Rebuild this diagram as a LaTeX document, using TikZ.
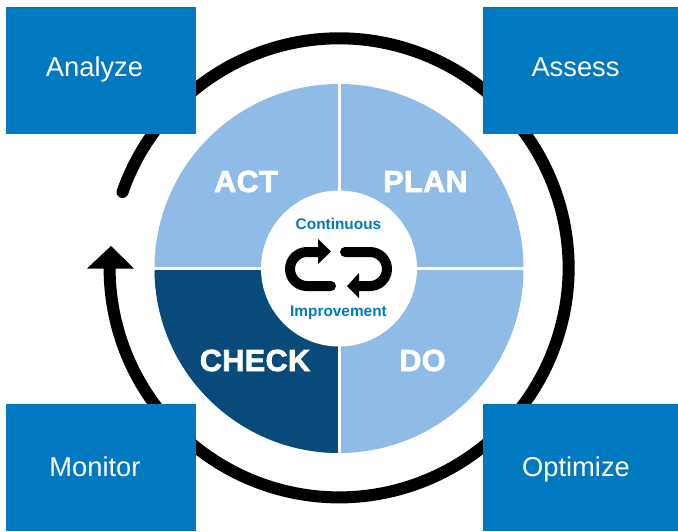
\documentclass[tikz,border=0pt]{standalone}
\usepackage{fontspec}
\setmainfont{Liberation Sans}
\newfontfamily\heavyfont[UprightFont={* Bold},FakeBold=2.5,LetterSpace=1.5]{Liberation Sans}
\definecolor{boxblue}{HTML}{0079C1}
\definecolor{lightseg}{HTML}{8FBBE6}
\definecolor{darkseg}{HTML}{084A7A}
\newcommand{\fsz}[1]{\fontsize{#1}{#1}\selectfont}
\tikzset{
  x=1pt,y=-1pt,
  cornerbox/.style={fill=boxblue,inner sep=0pt,anchor=north west,minimum height=127pt},
  boxtext/.style={text=white,inner sep=0pt,anchor=base,font=\fsz{27.3}},
  seglabel/.style={text=white,inner sep=0pt,anchor=base,font=\fsz{30.5}\heavyfont},
  midlabel/.style={text=boxblue,inner sep=0pt,anchor=base,font=\fsz{15.4}\bfseries},
  loopline/.style={draw=black,line width=10pt,line cap=round},
}
\begin{document}
\begin{tikzpicture}
\useasboundingbox (0,0) rectangle (678,531);
\coordinate (c) at (339,268.5);
% outer ring with arrowhead
\draw[line width=12pt,line cap=round] (122.5,192) arc[start angle=199.3,end angle=540,radius=229.5];
\fill (111,246) -- (134,268.5) -- (87,268.5) -- cycle;
% sectors
\fill[lightseg] (c) circle[radius=184.5];
\fill[darkseg] (c) -- ++(0,184.5) arc[start angle=90,end angle=180,radius=184.5] -- cycle;
\draw[white,line width=3pt] (339,80) -- (339,457) (150,268.5) -- (528,268.5);
\node[circle,fill=white,minimum size=156pt,inner sep=0pt] (hub) at (c) {};
% centre icon
\draw[loopline] (331,286) -- (307,286) arc[start angle=90,end angle=270,radius=17] -- (320,252);
\draw[loopline] (345,252) -- (370,252) arc[start angle=-90,end angle=90,radius=17] -- (358,286);
\fill (331,251.5) -- (318,239) -- (318,264) -- cycle;
\fill (347,286) -- (359,273) -- (359,298) -- cycle;
\node[midlabel] (cont) at (338.5,229) {Continuous};
\node[midlabel] (impr) at (338.5,316) {Improvement};
% sector labels
\node[seglabel] (act) at (246,192) {ACT};
\node[seglabel] (plan) at (425.5,192) {PLAN};
\node[seglabel] (check) at (255,371) {CHECK};
\node[seglabel] (do) at (422.5,371) {DO};
% corner boxes
\node[cornerbox,minimum width=190pt] (analyzebox) at (6,7) {};
\node[cornerbox,minimum width=195pt] (assessbox) at (483,7) {};
\node[cornerbox,minimum width=190pt] (monitorbox) at (6,404) {};
\node[cornerbox,minimum width=195pt] (optimizebox) at (483,404) {};
\node[boxtext] (analyze) at (94.5,76) {Analyze};
\node[boxtext] (assess) at (575.5,76) {Assess};
\node[boxtext] (monitor) at (95,476) {Monitor};
\node[boxtext] (optimize) at (576,476) {Optimize};
\end{tikzpicture}
\end{document}
